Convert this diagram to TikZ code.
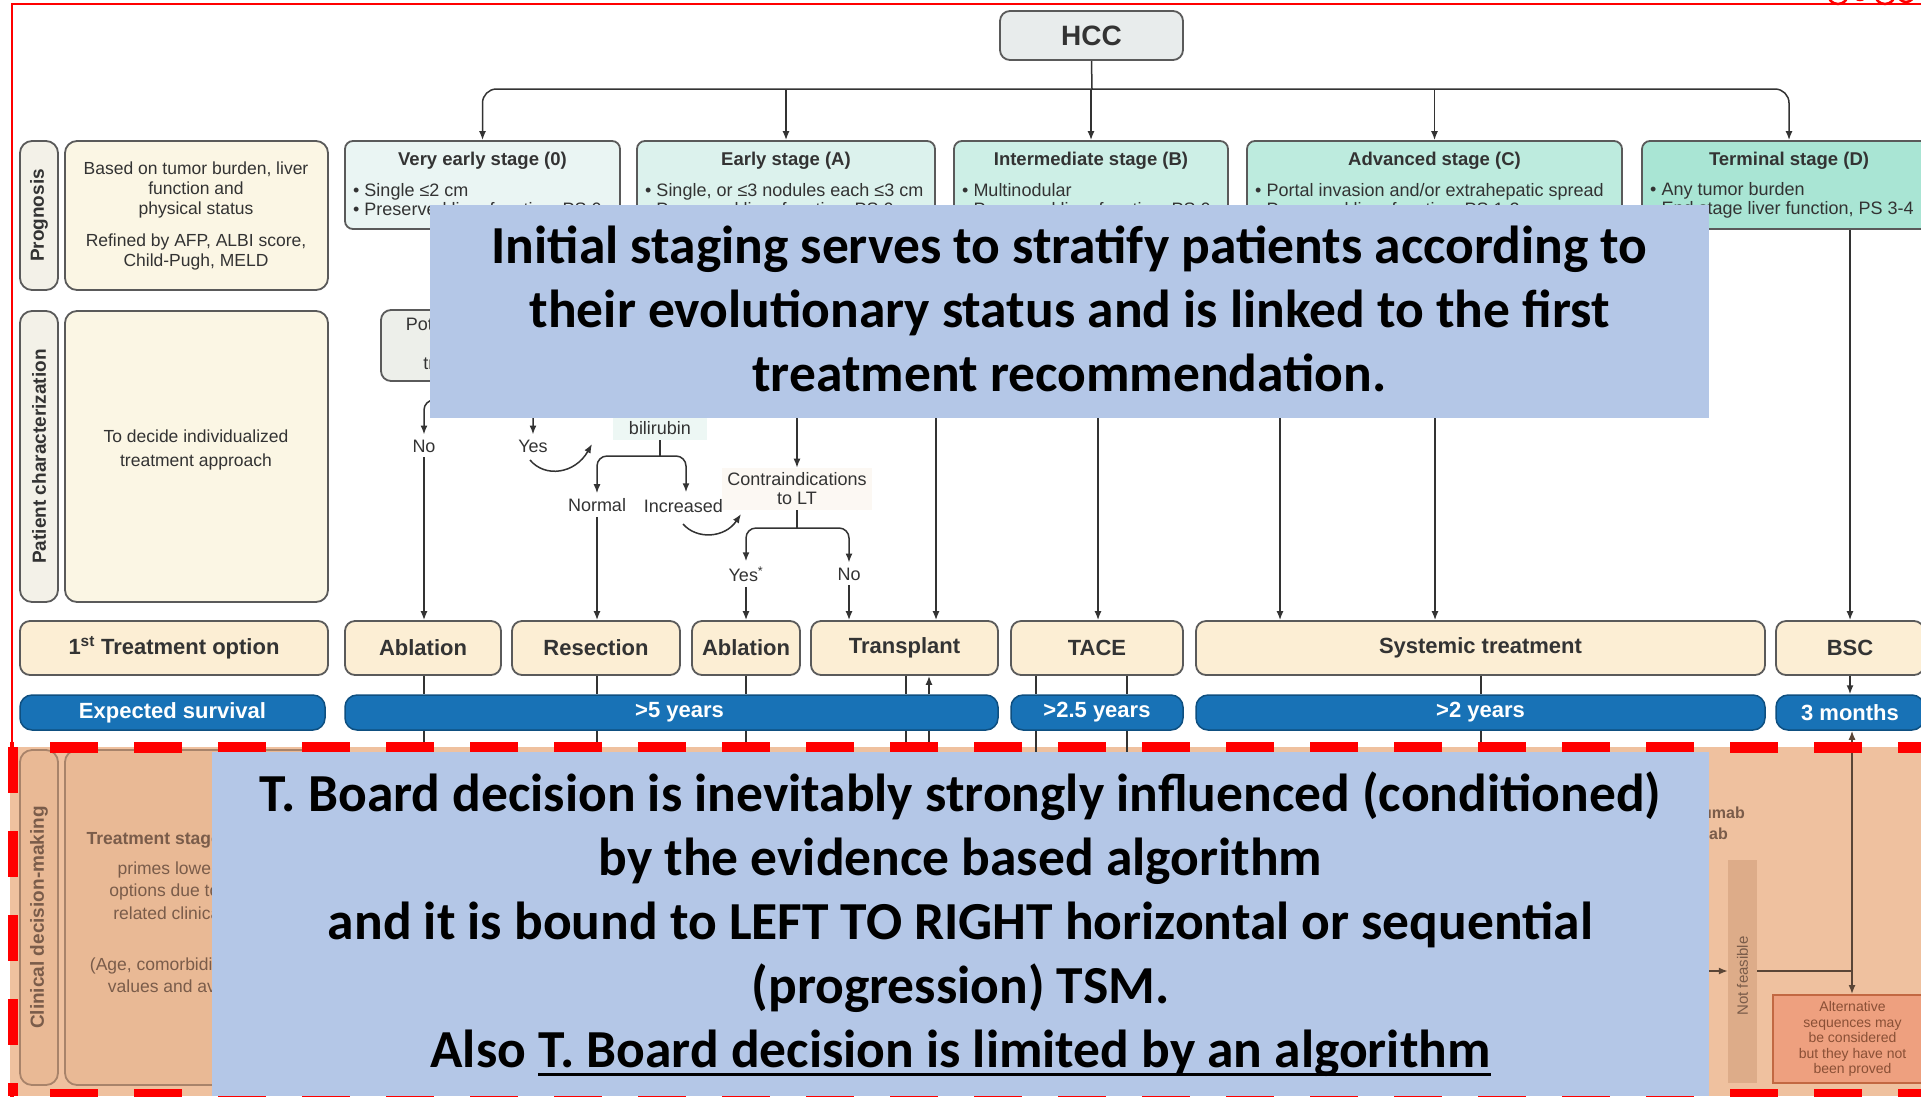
\documentclass[tikz,border=0pt]{standalone}
\usepackage{fontspec}
\setmainfont{Liberation Sans}
\newfontfamily\ovfont{Carlito}
\usetikzlibrary{arrows.meta}
\definecolor{ink}{HTML}{333333}
\definecolor{bord}{HTML}{5A5A5A}
\definecolor{hccfill}{HTML}{E8ECEC}
\definecolor{st0}{HTML}{EAF5F3}
\definecolor{stA}{HTML}{DCF2ED}
\definecolor{stB}{HTML}{CDEFE6}
\definecolor{stC}{HTML}{BDEBDE}
\definecolor{stD}{HTML}{A9E5D4}
\definecolor{cream}{HTML}{FCEED4}
\definecolor{creamlt}{HTML}{FBF6E4}
\definecolor{labfill}{HTML}{F3F1E8}
\definecolor{survblue}{HTML}{1872B6}
\definecolor{survbord}{HTML}{0E4F80}
\definecolor{potfill}{HTML}{EDEFEA}
\definecolor{bilfill}{HTML}{EDF7F4}
\definecolor{confill}{HTML}{FCF8F3}
\definecolor{peach}{HTML}{EFC19F}
\definecolor{peachbox}{HTML}{E9B995}
\definecolor{peachbord}{HTML}{A8836A}
\definecolor{peachtext}{HTML}{7A5C4A}
\definecolor{pline}{HTML}{5A4536}
\definecolor{nffill}{HTML}{DDAC89}
\definecolor{altfill}{HTML}{EEA07F}
\definecolor{altbord}{HTML}{C26842}
\definecolor{alttext}{HTML}{8A5036}
\definecolor{ovblue}{HTML}{B4C7E7}
\definecolor{framered}{HTML}{FF0000}
\newcommand\mkbox[7]{\node[#2, minimum width={(#5)-(#3)}, minimum height={(#6)-(#4)}] (#1) at ({((#3)+(#5))/2},{((#4)+(#6))/2}) {#7};}
\newcommand\myul[1]{\setbox0\hbox{#1}\rlap{\rule[-9pt]{\wd0}{3.5pt}}\box0}
\tikzset{
  conn/.style={draw=ink, line width=1.5pt},
  arr/.style={conn, -{Latex[length=9pt,width=7pt]}},
  pconn/.style={draw=pline, line width=1.5pt},
  parr/.style={pconn, -{Latex[length=9pt,width=7pt]}},
  boxbase/.style={draw=bord, line width=1.8pt, rounded corners=8pt, inner sep=0pt},
  stagebox/.style={boxbase},
  lblbox/.style={boxbase, rounded corners=12pt, fill=labfill},
  notebox/.style={boxbase, rounded corners=12pt, fill=creamlt},
  treatbox/.style={boxbase, rounded corners=10pt, fill=cream, font=\bfseries\fontsize{22}{24}\selectfont, text=ink},
  survbar/.style={draw=survbord, line width=1.5pt, rounded corners=12pt, fill=survblue, inner sep=0pt, text=white, font=\bfseries\fontsize{22}{24}\selectfont},
  sttitle/.style={font=\bfseries\fontsize{18.5}{20}\selectfont, text=ink, inner sep=0pt},
  bul/.style={font=\fontsize{18}{19}\selectfont, text=ink, align=left, inner sep=0pt, anchor=west},
  note/.style={font=\fontsize{17.5}{20}\selectfont, text=ink, align=center, inner sep=0pt},
  rotlab/.style={rotate=90, font=\bfseries\fontsize{19}{20}\selectfont, text=ink, inner sep=0pt},
  lab/.style={font=\fontsize{18}{19}\selectfont, text=ink, inner sep=5pt, align=center},
  pbox/.style={draw=peachbord, line width=1.8pt, rounded corners=12pt, fill=peachbox, inner sep=0pt},
  ptext/.style={font=\fontsize{17.5}{22.5}\selectfont, text=peachtext, align=center, inner sep=0pt},
  ovbox/.style={fill=ovblue, inner sep=0pt},
  ovtext/.style={font=\ovfont\bfseries\fontsize{53.5}{64}\selectfont, text=black, align=center, inner sep=0pt},
}
\begin{document}
\begin{tikzpicture}[x=1pt, y=-1pt]
\clip (0,0) rectangle (1921,1096);
\fill[white] (0,0) rectangle (1921,1096);
\fill[peach] (10,747) rectangle (1921,1096);

% ---------- HCC and stages ----------
\mkbox{hcc}{boxbase, rounded corners=10pt, fill=hccfill, font=\bfseries\fontsize{28}{30}\selectfont, text=ink}{1000}{11}{1183}{60}{HCC}
\mkbox{s0}{stagebox, fill=st0}{345}{141}{620}{229}{}
\mkbox{sA}{stagebox, fill=stA}{637}{141}{935}{229}{}
\mkbox{sB}{stagebox, fill=stB}{954}{141}{1228}{229}{}
\mkbox{sC}{stagebox, fill=stC}{1247}{141}{1622}{229}{}
\mkbox{sD}{stagebox, fill=stD}{1642}{141}{1936}{229}{}
\node[sttitle] (s0t) at (482.5,161) {Very early stage (0)};
\node[sttitle] (sAt) at (786,161) {Early stage (A)};
\node[sttitle] (sBt) at (1091,161) {Intermediate stage (B)};
\node[sttitle] (sCt) at (1434.5,161) {Advanced stage (C)};
\node[sttitle] (sDt) at (1789,161) {Terminal stage (D)};
\node[bul] (s0b) at (353,200.5) {• Single ≤2 cm\\• Preserved liver function, PS 0};
\node[bul] (sAb) at (645,200.5) {• Single, or ≤3 nodules each ≤3 cm\\• Preserved liver function, PS 0};
\node[bul] (sBb) at (962,200.5) {• Multinodular\\• Preserved liver function, PS 0};
\node[bul] (sCb) at (1255,200.5) {• Portal invasion and/or extrahepatic spread\\• Preserved liver function, PS 1-2};
\node[bul] (sDb) at (1650,200.5) {• Any tumor burden\\• End stage liver function, PS 3-4};

\coordinate (hb) at (1092,89);
\draw[conn] (hcc.south) -- (hb);
\draw[arr, rounded corners=14pt] (hb) -| (s0.north);
\draw[arr, rounded corners=14pt] (hb) -| (sD.north);
\foreach \s in {sA,sB,sC} \draw[arr] (\s.north |- hb) -- (\s.north);

% ---------- left column ----------
\mkbox{progLab}{lblbox}{20}{141}{58}{290}{}
\node[rotlab] at (progLab) {Prognosis};
\mkbox{progBox}{notebox}{65}{141}{328}{290}{}
\node[note] (progT1) at (196,190) {Based on tumor burden, liver\\function and\\physical status};
\node[note] (progT2) at (196,252) {Refined by AFP, ALBI score,\\Child-Pugh, MELD};
\mkbox{patLab}{lblbox}{20}{311}{58}{602}{}
\node[rotlab] at (patLab) {Patient characterization};
\mkbox{patBox}{notebox}{65}{311}{328}{602}{}
\node[note, font=\fontsize{17.5}{24}\selectfont] (patT) at (196,450) {To decide individualized\\treatment approach};
\mkbox{t1}{treatbox}{20}{621}{328}{675}{1\textsuperscript{st} Treatment option}
\mkbox{es}{survbar}{20}{695}{325}{730}{Expected survival}

% ---------- treatments and survival ----------
\mkbox{ab1}{treatbox}{345}{621}{501}{675}{Ablation}
\mkbox{res}{treatbox}{512}{621}{680}{675}{Resection}
\mkbox{ab2}{treatbox}{692}{621}{800}{675}{Ablation}
\mkbox{tra}{treatbox}{811}{621}{998}{675}{Transplant}
\mkbox{tace}{treatbox}{1011}{621}{1183}{675}{TACE}
\mkbox{sys}{treatbox}{1196}{621}{1765}{675}{Systemic treatment}
\mkbox{bsc}{treatbox}{1776}{621}{1924}{675}{BSC}
\mkbox{sv1}{survbar}{345}{695}{998}{730}{\hspace*{16pt}>5 years}
\mkbox{sv2}{survbar}{1011}{695}{1183}{730}{>2.5 years}
\mkbox{sv3}{survbar}{1196}{695}{1765}{730}{>2 years}
\mkbox{sv4}{survbar}{1776}{695}{1924}{730}{3 months}

% ---------- decision flow ----------
\mkbox{pot}{boxbase, rounded corners=10pt, fill=potfill, font=\fontsize{18}{19.5}\selectfont, text=ink, align=center}{381}{310}{584}{381}{Potential candidate\\for liver\\transplantation}
\coordinate (pb) at (482.5,400);
\node[lab] (no1) at (424,446) {No};
\node[lab] (yes1) at (533,446) {Yes};
\draw[conn] (pot.south) -- (pb);
\draw[arr, rounded corners=10pt] (pb) -| (no1.north);
\draw[arr, rounded corners=10pt] (pb) -| (yes1.north);
\draw[arr] (no1.south) -- (no1.south |- ab1.north);

\node[lab, fill=bilfill, minimum width=94pt, minimum height=24pt, inner sep=0pt] (bil) at (660,428) {bilirubin};
\coordinate (bb) at (660,456);
\node[lab] (nor) at (597,505) {Normal};
\node[lab] (inc) at (686,505) {Increased\textsuperscript{*}};
\draw[conn] (bil.south) -- (bb);
\draw[arr, rounded corners=10pt] (bb) -| (nor.north);
\draw[arr, rounded corners=10pt] (bb) -| (inc.north);
\draw[arr] (nor.south) -- (nor.south |- res.north);

\coordinate (cy1) at (530,460);
\coordinate (cy2) at (592,444);
\draw[arr] (cy1) .. controls (545,478) and (575,474) .. (cy2);
\coordinate (ci1) at (683,524);
\coordinate (ci2) at (741,514);
\draw[arr] (ci1) .. controls (697,540) and (725,538) .. (ci2);

\node[lab, fill=confill, font=\fontsize{18}{19}\selectfont] (con) at (797,489) {Contraindications\\to LT};
\coordinate (cin) at (797,410);
\draw[arr] (cin) -- (con.north);
\coordinate (cb) at (797,528);
\node[lab] (yes2) at (746,574) {Yes\textsuperscript{*}};
\node[lab] (no2) at (849,574) {No};
\draw[conn] (con.south) -- (cb);
\draw[arr, rounded corners=10pt] (cb) -| (yes2.north);
\draw[arr, rounded corners=10pt] (cb) -| (no2.north);
\draw[arr] (yes2.south) -- (yes2.south |- ab2.north);
\draw[arr] (no2.south) -- (no2.south |- tra.north);

\foreach \xx/\tgt in {936/tra,1098/tace,1280/sys,1435/sys}{
  \coordinate (tmp) at (\xx,410);
  \draw[arr] (tmp) -- (tmp |- \tgt.north);
}
\draw[arr] (bsc.north |- sD.south) -- (bsc.north);

% ---------- links between rows ----------
\coordinate (pk) at (0,762);
\foreach \xx/\tb/\sv in {424/ab1/sv1, 597/res/sv1, 746/ab2/sv1, 906/tra/sv1, 1036/tace/sv2, 1127/tace/sv2, 1481/sys/sv3}{
  \coordinate (tmp) at (\xx,0);
  \draw[conn] (tmp |- \tb.south) -- (tmp |- \sv.north);
  \draw[conn] (tmp |- \sv.south) -- (tmp |- pk);
}
\coordinate (tx2) at (929,0);
\draw[arr] (tx2 |- sv1.north) -- (tx2 |- tra.south);
\draw[conn] (tx2 |- sv1.south) -- (tx2 |- pk);
\draw[arr] (bsc.south) -- (bsc.south |- sv4.north);

% ---------- clinical decision-making (peach) ----------
\mkbox{cdmLab}{pbox}{20}{750}{58}{1085}{}
\node[rotlab, text=peachtext] at (cdmLab) {Clinical decision-making};
\mkbox{cdmBox}{pbox}{65}{750}{328}{1085}{}
\node[ptext, font=\bfseries\fontsize{17.5}{20}\selectfont] (cdmT1) at (196,840) {Treatment stage migration};
\node[ptext] (cdmT2) at (196,890.5) {primes lower priority\\options due to specific\\related clinical issues};
\node[ptext] (cdmT3) at (196,977) {(Age, comorbidities, patient\\values and availability)};
\node[ptext, font=\bfseries\fontsize{16}{18}\selectfont, anchor=east] (m1) at (1745,813) {Atezolizumab};
\node[ptext, font=\bfseries\fontsize{16}{18}\selectfont, anchor=east] (m2) at (1728,834) {Durvalumab};
\mkbox{nf}{fill=nffill, inner sep=0pt}{1728}{860}{1757}{1083}{}
\node[rotate=90, ptext, font=\fontsize{15}{16}\selectfont] at (1742.5,976) {Not feasible};
\mkbox{alt}{draw=altbord, line width=2pt, fill=altfill, inner sep=0pt, text=alttext, align=center, font=\fontsize{14}{15.5}\selectfont}{1773}{995}{1932}{1083}{Alternative\\sequences may\\be considered\\but they have not\\been proved}
\coordinate (nfin) at (1700,971);
\coordinate (jn) at (1852,971);
\draw[parr] (nfin) -- (nfin -| nf.west);
\draw[pconn] (nfin -| nf.east) -- (jn);
\draw[parr] (jn) -- (jn |- sv4.south);
\draw[parr] (jn) -- (jn |- alt.north);

% ---------- red frames ----------
\draw[framered, line width=10pt, dash pattern=on 48pt off 36pt, dash phase=44pt] (10,1094) -- (1921,1094);
\draw[framered, line width=10pt, dash pattern=on 46pt off 38pt] (13,747) -- (13,1096);
\draw[framered, line width=11pt, dash pattern=on 48pt off 36pt, dash phase=44pt] (10,747) -- (1921,747);
\draw[framered, line width=2.5pt] (12,747) -- (12,4) -- (1921,4);
\foreach \cx/\r in {1838/10, 1860/6, 1885/10, 1906/8}
  \draw[framered, line width=2.5pt] (\cx,-6) circle[radius=\r];

% ---------- overlays ----------
\node[ovbox, minimum width=1279pt, minimum height=213pt] (ov1) at (1069.5,311.5) {};
\node[ovtext] (ov1t) at (1069.5,309) {Initial staging serves to stratify patients according to\\their evolutionary status and is linked to the first\\treatment recommendation.};
\node[ovbox, minimum width=1497pt, minimum height=344pt] (ov2) at (960.5,924) {};
\node[ovtext] (ov2t) at (960.5,924) {T. Board decision is inevitably strongly influenced (conditioned)\\by the evidence based algorithm\\and it is bound to LEFT TO RIGHT horizontal or sequential\\(progression) TSM.\\Also \myul{T. Board decision is limited by an algorithm}};
\end{tikzpicture}
\end{document}
